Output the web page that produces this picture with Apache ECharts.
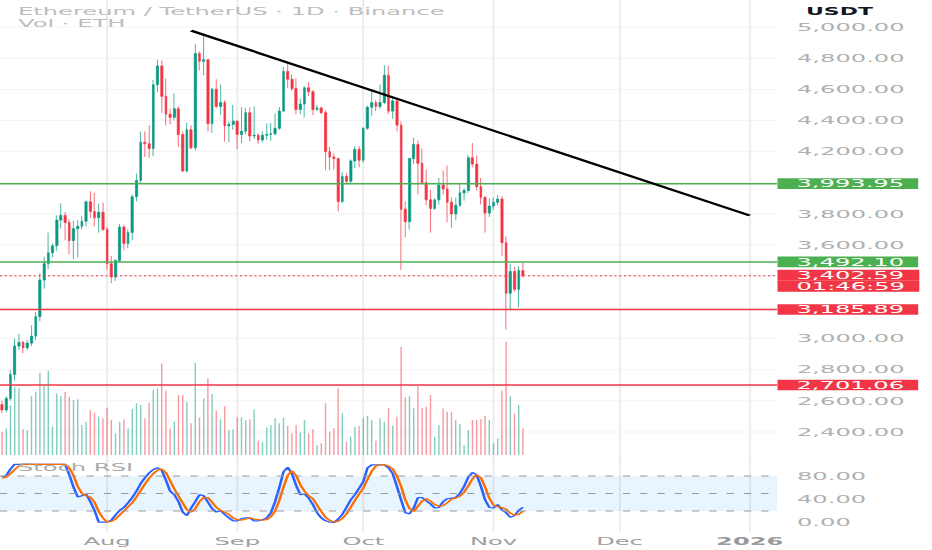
<!DOCTYPE html>
<html>
<head>
<meta charset="utf-8">
<script src="https://cdn.jsdelivr.net/npm/echarts@6/dist/echarts.min.js"></script>
<style>
html,body{margin:0;padding:0;background:#fff;overflow:hidden;width:932px;height:550px}
#chart{width:1696px;height:2200px;transform:scale(0.549528,0.25);transform-origin:0 0}
</style>
</head>
<body>
<div id="chart"></div>
<script>
// The reference screenshot is horizontally stretched. The chart is drawn on a larger surface
// (1696 x 2200) and scaled by CSS to 932 x 550, so X()/Y() turn picture pixels into surface pixels.
const XS = 932 / 1696, YS = 550 / 2200;
const X = v => v / XS;
const Y = v => v / YS;
const FONT = 'DejaVu Sans';
const FS = Y(11);

// ---- categories: daily bars from 2025-07-07 (plus empty future space) ----
const firstDay = Date.UTC(2025, 6, 7);
const dayCount = 185;
const dates = [];
for (let i = 0; i < dayCount; i++) dates.push(new Date(firstDay + i * 86400000).toISOString().slice(0, 10));
const monthNames = ['Jan','Feb','Mar','Apr','May','Jun','Jul','Aug','Sep','Oct','Nov','Dec'];

// ---- ETH/USDT daily OHLC ----
const opens = [
2575,2541,2614,2769,2951,2975,2940,2970,3015,3140,
3375,3480,3550,3595,3760,3790,3745,3628,3705,3720,
3752,3878,3815,3775,3810,3700,3480,3395,3500,3715,
3610,3680,3910,4015,4260,4250,4220,4630,4750,4555,
4440,4420,4475,4310,4075,4340,4225,4830,4780,4790,
4380,4600,4490,4515,4365,4375,4395,4310,4330,4450,
4300,4305,4275,4305,4310,4315,4350,4460,4715,4665,
4605,4470,4505,4610,4585,4470,4480,4450,4200,4165,
4155,3880,4040,4010,4140,4215,4145,4350,4485,4515,
4490,4515,4690,4460,4525,4370,3830,3750,4155,4245,
4125,4000,3890,3835,3890,3985,3960,3875,3800,3855,
3935,3950,4160,4120,3975,3905,3805,3850,3875,3895,
3615,3290,3430,3315,3436];
const highs = [
2600,2630,2797,3000,3030,2985,2990,3085,3170,3420,
3525,3680,3610,3790,3868,3812,3765,3755,3760,3785,
3885,3945,3935,3865,3872,3715,3530,3510,3735,3730,
3700,3925,4060,4330,4330,4370,4660,4790,4785,4670,
4475,4575,4490,4330,4385,4370,4890,4845,4950,4795,
4610,4665,4630,4530,4395,4500,4400,4485,4480,4485,
4490,4320,4330,4380,4385,4445,4485,4745,4770,4695,
4670,4540,4620,4645,4595,4500,4490,4465,4230,4190,
4160,4070,4060,4150,4235,4235,4355,4495,4590,4530,
4630,4755,4750,4550,4535,4395,3880,4160,4290,4270,
4220,4085,3955,3900,4030,4080,4110,3905,3905,3995,
3965,4180,4255,4175,4030,3915,3900,3905,3920,3915,
3655,3480,3460,3465,3485];
const lows = [
2520,2525,2600,2730,2925,2905,2925,2950,2990,3110,
3320,3445,3520,3560,3705,3630,3540,3510,3520,3700,
3720,3775,3720,3680,3690,3440,3355,3370,3490,3565,
3580,3630,3880,4000,4165,4160,4170,4580,4450,4370,
4375,4400,4230,4070,4065,4215,4205,4720,4690,4330,
4320,4480,4435,4265,4260,4340,4215,4255,4310,4265,
4280,4250,4260,4275,4270,4305,4340,4455,4610,4590,
4440,4440,4420,4555,4435,4460,4440,4080,4080,4085,
3815,3870,3990,3990,4095,4100,4130,4340,4430,4460,
4475,4505,4440,4410,4330,3440,3650,3700,4120,3925,
3995,3855,3680,3825,3860,3925,3745,3710,3760,3845,
3885,3935,4100,3950,3860,3680,3780,3825,3855,3530,
3057,3180,3300,3200,3390];
const closes = [
2541,2614,2769,2951,2975,2940,2970,3015,3140,3375,
3480,3550,3595,3760,3790,3745,3628,3705,3720,3752,
3878,3815,3775,3810,3700,3480,3395,3500,3715,3610,
3680,3910,4015,4260,4250,4220,4630,4750,4555,4440,
4420,4475,4310,4075,4340,4225,4830,4780,4790,4380,
4600,4490,4515,4365,4375,4395,4310,4330,4450,4300,
4305,4275,4305,4310,4315,4350,4460,4715,4665,4605,
4470,4505,4610,4585,4470,4480,4450,4200,4165,4155,
3880,4040,4010,4140,4215,4145,4350,4485,4515,4490,
4515,4690,4460,4525,4370,3830,3750,4155,4245,4125,
4000,3890,3835,3890,3985,3960,3875,3800,3855,3935,
3950,4160,4120,3975,3905,3805,3850,3875,3895,3615,
3290,3430,3315,3436,3402.59];

// ---- volume (thousand ETH) ----
const volumes = [
485,550,1035,1423,1389,535,521,1229,1319,1715,
1458,1757,590,1285,1229,1319,1215,1146,1160,625,
694,937,882,799,764,986,729,451,694,743,
550,960,1076,1042,764,1090,1354,1389,1910,1340,
550,694,1250,1250,1111,660,1924,785,1180,1597,
1270,924,743,1021,521,535,785,785,729,743,
951,299,268,576,625,764,660,778,604,451,
625,465,729,451,535,208,243,1076,486,556,
1389,868,278,382,590,604,764,813,729,299,
764,694,972,615,799,2257,1201,1229,972,1437,
972,1007,1250,382,625,972,903,903,729,646,
208,521,729,729,743,813,729,243,347,1340,
2361,1229,868,1042,556];

// ---- Stoch RSI %K (blue) and %D (orange) ----
const stochK = [
78,81,92,100,100,100,100,100,100,100,
100,100,100,100,100,100,82,61,44,46,
49,36,21,1,1,1,4,13,21,26,
34,43,54,67,77,85,91,94,90,73,
54,48,36,18,12,25,36,48,46,35,
24,18,21,14,8,3,3,7,8,8,
3,3,5,8,17,36,60,87,95,84,
64,48,49,42,31,17,8,3,1,0,
6,14,26,39,48,59,70,94,99,99,
99,99,94,84,62,39,17,15,25,43,
43,37,32,25,26,36,41,42,43,50,
62,78,86,82,62,39,26,25,31,22,
17,9,12,21,26];
const stochD = [
76,78,84,91,97,100,100,100,100,100,
100,100,100,100,100,100,94,81,62,50,
46,44,35,19,8,1,2,6,13,20,
27,34,44,55,66,76,84,90,92,86,
72,58,46,34,22,18,24,36,43,43,
35,26,21,18,14,8,5,4,6,8,
6,5,4,5,10,20,38,61,81,89,
81,65,54,46,41,30,19,9,4,1,
2,7,15,26,38,49,59,74,88,97,
99,99,97,92,80,62,39,24,19,28,
37,41,37,31,28,29,34,40,42,45,
52,63,75,82,77,61,42,30,27,26,
23,16,13,14,20];

// ---- drawn levels ----
const greenLevels = [3993.95, 3492.10];
const redLevels = [3185.89, 2701.06];
const lastPrice = 3402.59;
const countdown = '01:46:59';
const trendStart = ['2025-08-21', 4977];
const trendEnd = ['2026-01-01', 3790];
const stochBands = [80, 50, 20];
const stochTicks = [0, 40, 80];

const UP = '#089981', DOWN = '#f23645', GREEN = '#4caf50', RED = '#f23645';
const LABEL_GRAY = '#b0b0b0';
const W = 1696;
const gridRight = W - X(777);

const fmtPrice = v => Number(v).toLocaleString('en-US', {minimumFractionDigits: 2, maximumFractionDigits: 2});
const isMonthStart = (i, v) => typeof v === 'string' && v.slice(8, 10) === '01';
// price-scale labels that sit under a level tag are hidden, as on the reference price scale
const tagValues = greenLevels.concat(redLevels, [lastPrice]);
const priceAxisLabel = v => tagValues.some(t => Math.abs(t - v) < 60) ? '' : fmtPrice(v);

const candleData = opens.map((o, i) => [o, closes[i], lows[i], highs[i]]);
const volData = volumes.map((v, i) => ({
  value: v,
  itemStyle: {color: closes[i] >= opens[i] ? 'rgba(8,153,129,0.5)' : 'rgba(242,54,69,0.5)'}
}));

const TAG_PAD = [0, X(14), 0, X(19)];
function tag(color) {
  return {
    show: true, position: 'end', distance: X(0.5), color: '#fff', backgroundColor: color,
    fontFamily: FONT, fontSize: FS, lineHeight: Y(10.7), padding: TAG_PAD,
    formatter: p => fmtPrice(p.value)
  };
}

const levelLines = [];
greenLevels.forEach(v => levelLines.push({yAxis: v, lineStyle: {color: GREEN, width: Y(1.5), type: 'solid'}, label: tag(GREEN)}));
redLevels.forEach(v => levelLines.push({yAxis: v, lineStyle: {color: RED, width: Y(1.5), type: 'solid'}, label: tag(RED)}));
const tagRow = {backgroundColor: RED, color: '#fff', fontFamily: FONT, fontSize: FS, width: 198, height: Y(11), lineHeight: Y(11), padding: TAG_PAD};
levelLines.push({
  yAxis: lastPrice,
  lineStyle: {color: RED, width: Y(1), type: [X(2.2), X(2.6)]},
  label: {
    show: true, position: 'end', distance: X(0.5),
    formatter: '{s|}\n{a|' + fmtPrice(lastPrice) + '}\n{b|' + countdown + '}',
    rich: {s: {height: Y(10), lineHeight: Y(10), fontSize: 4}, a: tagRow, b: tagRow}
  }
});
levelLines.push([
  {coord: trendStart, lineStyle: {color: '#000', width: Y(2), type: 'solid'}, label: {show: false}},
  {coord: trendEnd}
]);

const vGrid = {color: '#ececec', width: X(2)};
const titleStyle = {fontSize: FS, fontWeight: 'normal', color: '#bdbdbd', fontFamily: FONT};

const chart = echarts.init(document.getElementById('chart'), null, {renderer: 'svg'});
chart.setOption({
  animation: false,
  backgroundColor: '#fff',
  title: [
    {text: 'Ethereum / TetherUS · 1D · Binance', left: X(18), top: Y(5.3), padding: 0, textStyle: titleStyle},
    {text: 'Vol · ETH', left: X(18), top: Y(17.5), padding: 0, textStyle: titleStyle},
    {text: 'Stoch RSI', left: X(18), top: Y(461.2), padding: 0, textStyle: Object.assign({}, titleStyle, {color: '#aaaaaa'})},
    {text: 'USDT', left: X(806), top: Y(6.5), padding: 0, textStyle: {fontSize: Y(10), fontWeight: 'bold', color: '#131722', fontFamily: FONT}}
  ],
  grid: [
    {left: 0, right: gridRight, top: Y(-4.1), height: Y(467.1), outerBoundsMode: 'none'},
    {left: 0, right: gridRight, top: Y(335), height: Y(120), outerBoundsMode: 'none'},
    {left: 0, right: gridRight, top: Y(458), height: Y(74), outerBoundsMode: 'none'}
  ],
  xAxis: [
    {type: 'category', gridIndex: 0, data: dates, boundaryGap: true,
     axisLine: {show: false}, axisTick: {show: false}, axisLabel: {show: false},
     splitLine: {show: true, interval: isMonthStart, alignWithLabel: true, lineStyle: vGrid}},
    {type: 'category', gridIndex: 1, data: dates, boundaryGap: true, show: false},
    {type: 'category', gridIndex: 2, data: dates, boundaryGap: true,
     axisLine: {show: false}, axisTick: {show: false},
     axisLabel: {interval: isMonthStart, margin: Y(3.5), color: '#9e9e9e', fontSize: FS, fontFamily: FONT,
       formatter: v => v.slice(5, 7) === '01' ? '{y|' + v.slice(0, 4) + '}' : monthNames[+v.slice(5, 7) - 1],
       rich: {y: {fontWeight: 'bold', color: '#999999', fontSize: FS, fontFamily: FONT}}},
     splitLine: {show: true, interval: isMonthStart, alignWithLabel: true, lineStyle: vGrid}}
  ],
  yAxis: [
    {type: 'value', gridIndex: 0, position: 'right', min: 2200, max: 5200, interval: 200,
     axisLine: {show: false}, axisTick: {show: false},
     axisLabel: {showMinLabel: false, showMaxLabel: false, margin: X(20), align: 'left',
       color: LABEL_GRAY, fontSize: FS, fontFamily: FONT, formatter: priceAxisLabel},
     splitLine: {show: true, showMinLine: false, showMaxLine: false, lineStyle: {color: '#f3f3f3', width: Y(1)}}},
    {type: 'value', gridIndex: 1, min: 0, max: 2500, show: false},
    {type: 'value', gridIndex: 2, position: 'right', min: -16.1, max: 110.8,
     axisLine: {show: false}, axisTick: {show: false}, splitLine: {show: false},
     axisLabel: {customValues: stochTicks, margin: X(20), align: 'left', color: LABEL_GRAY, fontSize: FS, fontFamily: FONT,
       formatter: v => stochTicks.indexOf(v) >= 0 ? v.toFixed(2) : ''}}
  ],
  series: [
    {type: 'bar', name: 'Vol', xAxisIndex: 1, yAxisIndex: 1, data: volData, barWidth: X(1.4), z: 1, silent: true},
    {type: 'candlestick', name: 'ETHUSDT', xAxisIndex: 0, yAxisIndex: 0, data: candleData, barWidth: X(2.3), z: 2,
     itemStyle: {color: UP, color0: DOWN, borderColor: UP, borderColor0: DOWN, borderWidth: X(1)},
     markLine: {silent: true, symbol: ['none', 'none'], animation: false, label: {show: false}, data: levelLines}},
    {type: 'line', name: '%K', xAxisIndex: 2, yAxisIndex: 2, data: stochK, symbol: 'none', z: 3,
     lineStyle: {color: '#2962ff', width: Y(1.2)},
     markArea: {silent: true, itemStyle: {color: 'rgba(33,150,243,0.1)'}, data: [[{yAxis: 20}, {yAxis: 80}]]},
     markLine: {silent: true, symbol: ['none', 'none'], label: {show: false},
       lineStyle: {color: '#9a9a9a', width: Y(1), type: [X(7.3), X(10)]},
       data: stochBands.map(v => ({yAxis: v}))}},
    {type: 'line', name: '%D', xAxisIndex: 2, yAxisIndex: 2, data: stochD, symbol: 'none', z: 4,
     lineStyle: {color: '#ff6d00', width: Y(1.2)}}
  ]
});
</script>
</body>
</html>
